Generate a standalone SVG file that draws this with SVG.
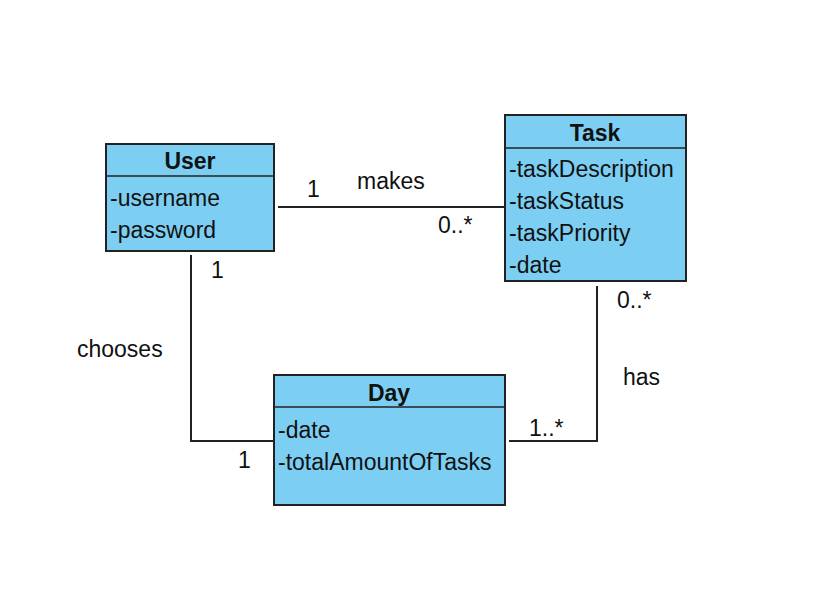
<svg xmlns="http://www.w3.org/2000/svg" width="818" height="596" viewBox="0 0 818 596">
<style>
.box{fill:#7ccff3;stroke:#222;stroke-width:2}
.sep{stroke:#222;stroke-width:1.5}
.t{font-family:"Liberation Sans",Arial,sans-serif;font-size:23px;fill:#111}
.b{font-weight:bold;text-anchor:middle}
.c{fill:none;stroke:#222;stroke-width:2}
</style>
<rect width="818" height="596" fill="#fff"/>
<g id="connectors">
<path class="c" d="M278 207H505"/>
<path class="c" d="M191 255V441H274"/>
<path class="c" d="M597 286V441H509"/>
</g>
<g id="labels">
<text class="t" x="307" y="197">1</text>
<text class="t" x="357" y="189">makes</text>
<text class="t" x="438" y="233">0..*</text>
<text class="t" x="211" y="278">1</text>
<text class="t" x="77" y="357">chooses</text>
<text class="t" x="238" y="468">1</text>
<text class="t" x="617" y="308">0..*</text>
<text class="t" x="623" y="385">has</text>
<text class="t" x="529" y="436">1..*</text>
</g>
<g id="user">
<rect class="box" x="106" y="144" width="168" height="107"/>
<line class="sep" x1="106" y1="176" x2="274" y2="176"/>
<text class="t b" x="190" y="169">User</text>
<text class="t" x="110" y="206">-username</text>
<text class="t" x="110" y="238">-password</text>
</g>
<g id="task">
<rect class="box" x="505" y="115" width="181" height="166"/>
<line class="sep" x1="505" y1="148" x2="686" y2="148"/>
<text class="t b" x="595" y="141">Task</text>
<text class="t" x="509" y="177">-taskDescription</text>
<text class="t" x="509" y="209">-taskStatus</text>
<text class="t" x="509" y="241">-taskPriority</text>
<text class="t" x="509" y="273">-date</text>
</g>
<g id="day">
<rect class="box" x="274" y="375" width="231" height="130"/>
<line class="sep" x1="274" y1="407" x2="505" y2="407"/>
<text class="t b" x="389" y="401">Day</text>
<text class="t" x="278" y="438">-date</text>
<text class="t" x="278" y="470">-totalAmountOfTasks</text>
</g>
</svg>
